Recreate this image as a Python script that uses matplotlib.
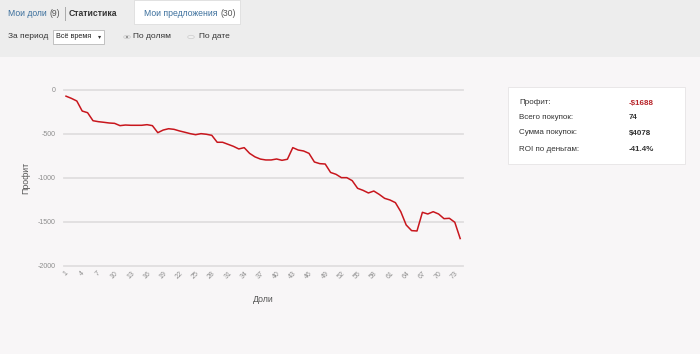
import matplotlib
matplotlib.use("Agg")
import matplotlib.pyplot as plt
from matplotlib.patches import Rectangle, Circle

plt.rcParams["font.family"] = ["Liberation Sans", "DejaVu Sans"]
plt.rcParams["axes.unicode_minus"] = False

# ---- данные ----
shares = list(range(1, 75))
profit = [
    -70, -95, -125, -239, -258, -349, -360, -367, -375, -379,
    -405, -398, -401, -401, -401, -394, -405, -485, -455, -440,
    -447, -465, -480, -496, -508, -496, -503, -515, -594, -594,
    -617, -640, -670, -655, -720, -760, -785, -795, -795, -784,
    -799, -787, -655, -682, -693, -720, -818, -837, -841, -937,
    -958, -996, -996, -1030, -1117, -1140, -1170, -1148, -1186, -1231,
    -1250, -1280, -1383, -1534, -1598, -1602, -1390, -1409, -1383, -1409,
    -1462, -1458, -1503, -1688,
]
y_ticks = [0, -500, -1000, -1500, -2000]
x_ticks = list(range(1, 75, 3))

stat_labels = ["Профит:", "Всего покупок:", "Сумма покупок:", "ROI по деньгам:"]
stat_values = ["-$1688", "74", "$4078", "-41.4%"]

W, H = 700, 354


def fx(x):
    return x / W


def fy(y):
    return 1 - y / H


fig = plt.figure(figsize=(7, 3.54), dpi=100)
fig.patch.set_facecolor("#f8f6f7")
renderer = fig.canvas.get_renderer()


def after(prev, text, gap=3, **kw):
    # ставим текст сразу справа от предыдущего
    bb = prev.get_window_extent(renderer)
    x0, y0 = prev.get_position()
    return fig.text((bb.x1 + gap) / W, y0, text, va="center", **kw)


# ---- шапка с вкладками и фильтром ----
fig.patches.append(Rectangle((0, fy(57)), 1, 57 / H, transform=fig.transFigure,
                             facecolor="#ededed", edgecolor="none", zorder=0))
fig.patches.append(Rectangle((fx(134), fy(24)), 106 / W, 24 / H, transform=fig.transFigure,
                             facecolor="white", edgecolor="#dddddd", lw=0.6, zorder=1))
link = "#3b6f9c"
t1 = fig.text(fx(8), fy(13), "Мои доли", color=link, fontsize=6.2, va="center")
after(t1, "(9)", color="#555555", fontsize=6.2)
fig.add_artist(plt.Line2D([fx(64.5), fx(64.5)], [fy(7), fy(20)], transform=fig.transFigure,
                          color="#aaaaaa", lw=0.7))
fig.text(fx(69), fy(13), "Статистика", color="#333333", fontsize=6.2, va="center", weight="bold")
t2 = fig.text(fx(144), fy(13), "Мои предложения", color=link, fontsize=6.2, va="center")
after(t2, "(30)", color="#555555", fontsize=6.2)

fig.text(fx(8), fy(37), "За период", color="#333333", fontsize=6.0, va="center")
fig.patches.append(Rectangle((fx(53), fy(44)), 51 / W, 14 / H, transform=fig.transFigure,
                             facecolor="white", edgecolor="#b8b8b8", lw=0.6, zorder=1))
fig.text(fx(56), fy(37), "Всё время", color="#222222", fontsize=5.2, va="center")
fig.text(fx(97.5), fy(37), "▾", color="#333333", fontsize=4.5, va="center")

fig.patches.append(Circle((fx(127), fy(37)), 3.3 / W, transform=fig.transFigure,
                          facecolor="#f4f4f4", edgecolor="#c8c8c8", lw=0.5, zorder=2))
fig.patches.append(Circle((fx(127), fy(37)), 1.3 / W, transform=fig.transFigure,
                          facecolor="#555555", edgecolor="none", zorder=3))
fig.text(fx(133), fy(37), "По долям", color="#333333", fontsize=6.0, va="center")
fig.patches.append(Circle((fx(191), fy(37)), 3.3 / W, transform=fig.transFigure,
                          facecolor="#f0f0f0", edgecolor="#cccccc", lw=0.5, zorder=2))
fig.text(fx(199), fy(37), "По дате", color="#333333", fontsize=6.0, va="center")

# ---- график ----
ax = fig.add_axes([fx(64), fy(266), (463 - 64) / W, (266 - 90) / H])
ax.set_facecolor("none")
ax.plot(shares, profit, color="#c8161d", lw=1.1, zorder=3)
ax.set_xlim(0.63, 74.52)
ax.set_ylim(-2000, 0)
ax.set_yticks(y_ticks)
ax.set_xticks(x_ticks)
ax.set_xticklabels([str(t) for t in x_ticks], rotation=45, ha="center")
ax.tick_params(axis="both", length=0, labelsize=5.0, colors="#8c8c8c")
ax.tick_params(axis="x", pad=3)
ax.tick_params(axis="y", pad=6)
ax.grid(axis="y", color="#e0dedf", lw=1.3)
ax.set_axisbelow(True)
for s in ax.spines.values():
    s.set_visible(False)
for gl in ax.get_ygridlines():
    gl.set_clip_on(False)
ax.set_ylabel("Профит", fontsize=6.3, color="#555555", labelpad=5)
ax.set_xlabel("Доли", fontsize=6.3, color="#555555", labelpad=10)

# ---- блок со статистикой ----
fig.patches.append(Rectangle((fx(508), fy(164)), 177 / W, 77 / H, transform=fig.transFigure,
                             facecolor="white", edgecolor="#e6e4e5", lw=0.6, zorder=1))
rows_y = [103, 118, 133, 149]
for lbl, val, yy in zip(stat_labels, stat_values, rows_y):
    fig.text(fx(519), fy(yy), lbl, color="#333333", fontsize=5.8, va="center")
    col = "#b8262b" if val.startswith("-$") else "#333333"
    fig.text(fx(629), fy(yy), val, color=col, fontsize=5.8, va="center", weight="bold")

fig.savefig("out.png", dpi=100, facecolor=fig.get_facecolor())
